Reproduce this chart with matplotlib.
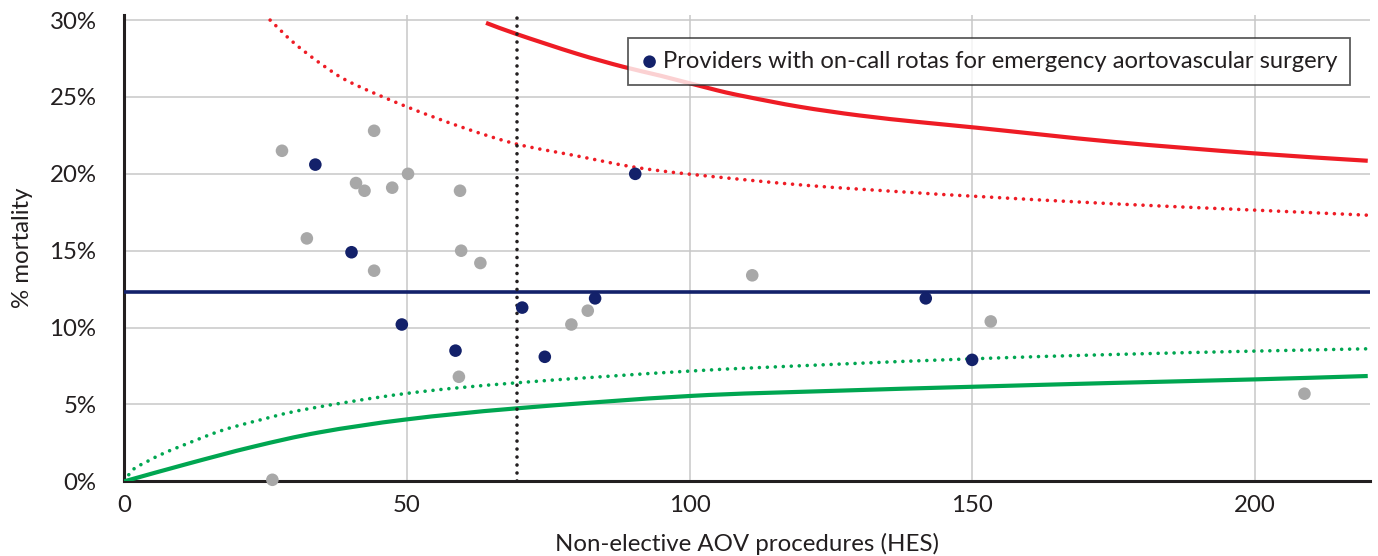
import matplotlib
matplotlib.use("Agg")
import matplotlib.pyplot as plt
from matplotlib.ticker import FuncFormatter
from matplotlib.path import Path
from matplotlib.patches import PathPatch

plt.rcParams['font.family'] = ['Lato', 'DejaVu Sans']

# --- data ---
other_x = [27.9, 44.2, 41.0, 42.5, 47.4, 50.2, 32.3, 44.2, 59.4, 59.6, 63.0, 26.2, 59.2, 79.1, 82.0, 111.1, 153.3, 208.8]
other_y = [21.5, 22.8, 19.4, 18.9, 19.1, 20.0, 15.8, 13.7, 18.9, 15.0, 14.2, 0.1, 6.8, 10.2, 11.1, 13.4, 10.4, 5.7]

rota_x = [33.8, 40.2, 49.1, 58.6, 70.4, 74.4, 83.3, 90.4, 141.8, 150.0]
rota_y = [20.6, 14.9, 10.2, 8.5, 11.3, 8.1, 11.9, 20.0, 11.9, 7.9]

mean_rate = 12.3
volume_threshold = 69.5

upper998_x = [64.0, 69.5, 80, 88.3, 95, 104.8, 110, 119.5, 130, 140.8, 150.8, 175, 200, 220]
upper998_y = [29.82, 29.08, 27.82, 26.96, 26.37, 25.44, 25.02, 24.36, 23.8, 23.36, 23.0, 22.08, 21.33, 20.85]

upper95_x = [25.8, 30, 35, 40, 50, 60, 69.5, 80, 90, 100, 120, 140, 150, 175, 200, 220]
upper95_y = [30.0, 28.52, 27.1, 25.95, 24.36, 23.0, 21.93, 21.17, 20.45, 19.98, 19.27, 18.77, 18.55, 18.05, 17.64, 17.31]

lower998_x = [0, 11, 22.8, 34.6, 50, 69.5, 100, 125, 150, 175, 200, 220]
lower998_y = [0, 1.12, 2.25, 3.19, 4.03, 4.75, 5.55, 5.88, 6.15, 6.4, 6.63, 6.85]

lower95_x = [0, 1.6, 4.1, 6.7, 10.5, 17.1, 24.0, 32.3, 50, 69.5, 100, 125, 150, 175, 200, 220]
lower95_y = [0, 0.78, 1.3, 1.78, 2.36, 3.29, 3.99, 4.7, 5.72, 6.41, 7.17, 7.6, 7.97, 8.25, 8.47, 8.62]

x_ticks = [0, 50, 100, 150, 200]
y_ticks = [0, 5, 10, 15, 20, 25, 30]

legend_label = "Providers with on-call rotas for emergency aortovascular surgery"

# --- styles ---
navy = "#13216a"
gray = "#a8a8a8"
red = "#ee1c25"
green = "#00a651"
dark = "#231f20"
FS = 17.3
DOT = (0, (0.01, 2.2))


def smooth_curve(ax, xs, ys, **kw):
    """Draw a smoothed line (like a spreadsheet 'smoothed line') through read points."""
    pts = list(zip(xs, ys))
    verts = [pts[0]]
    codes = [Path.MOVETO]
    n = len(pts)
    for i in range(n - 1):
        p1 = pts[i]
        p2 = pts[i + 1]
        p0 = pts[i - 1] if i > 0 else (2 * p1[0] - p2[0], 2 * p1[1] - p2[1])
        p3 = pts[i + 2] if i + 2 < n else (2 * p2[0] - p1[0], 2 * p2[1] - p1[1])
        c1 = (p1[0] + (p2[0] - p0[0]) / 6.0, p1[1] + (p2[1] - p0[1]) / 6.0)
        c2 = (p2[0] - (p3[0] - p1[0]) / 6.0, p2[1] - (p3[1] - p1[1]) / 6.0)
        verts += [c1, c2, p2]
        codes += [Path.CURVE4] * 3
    patch = PathPatch(Path(verts, codes), facecolor='none', transform=ax.transData, **kw)
    ax.add_patch(patch)
    return patch


fig = plt.figure(figsize=(13.78, 5.56), dpi=100)
ax = fig.add_axes([0.0902, 0.1343, 0.904, 0.8387])

ax.set_xlim(0, 220.4)
ax.set_ylim(0, 30.33)

ax.set_xticks(x_ticks)
ax.set_yticks(y_ticks)
ax.yaxis.set_major_formatter(FuncFormatter(lambda v, p: f"{int(v)}%"))
ax.tick_params(axis='both', length=0, labelsize=FS, colors=dark)
ax.tick_params(axis='x', pad=10)
ax.tick_params(axis='y', pad=20)

ax.grid(True, color="#c8c8c8", linewidth=1.1, zorder=0)
ax.set_axisbelow(True)

for s in ['top', 'right']:
    ax.spines[s].set_visible(False)
for s in ['left', 'bottom']:
    ax.spines[s].set_color(dark)
    ax.spines[s].set_linewidth(2.2)

# control limits
smooth_curve(ax, upper998_x, upper998_y, edgecolor=red, lw=3.0, capstyle='butt', zorder=3)
smooth_curve(ax, upper95_x, upper95_y, edgecolor=red, lw=2.6, linestyle=DOT, capstyle='round', zorder=3)
smooth_curve(ax, lower998_x, lower998_y, edgecolor=green, lw=3.0, capstyle='butt', zorder=3)
smooth_curve(ax, lower95_x, lower95_y, edgecolor=green, lw=2.6, linestyle=DOT, capstyle='round', zorder=3)

# mean line
ax.axhline(mean_rate, color=navy, lw=2.6, zorder=3)
# volume threshold
ax.axvline(volume_threshold, color=dark, lw=2.6, linestyle=DOT, dash_capstyle='round', zorder=3)

# points
ax.scatter(other_x, other_y, s=82, color=gray, edgecolors='none', zorder=4, clip_on=False)
ax.scatter(rota_x, rota_y, s=82, color=navy, edgecolors='none', zorder=5, label=legend_label)

leg = ax.legend(loc='upper right', bbox_to_anchor=(0.984, 0.951), fontsize=17.1,
                frameon=True, fancybox=False, borderpad=0.55, handletextpad=0.17,
                handlelength=0.75, borderaxespad=0, markerscale=1.0)
leg.get_frame().set_edgecolor("#333333")
leg.get_frame().set_linewidth(1.3)
for t in leg.get_texts():
    t.set_color(dark)

ax.set_xlabel("Non-elective AOV procedures (HES)", fontsize=FS, color=dark, labelpad=12)
ax.set_ylabel("% mortality", fontsize=FS, color=dark, labelpad=12)

fig.savefig("out.png", dpi=100)
